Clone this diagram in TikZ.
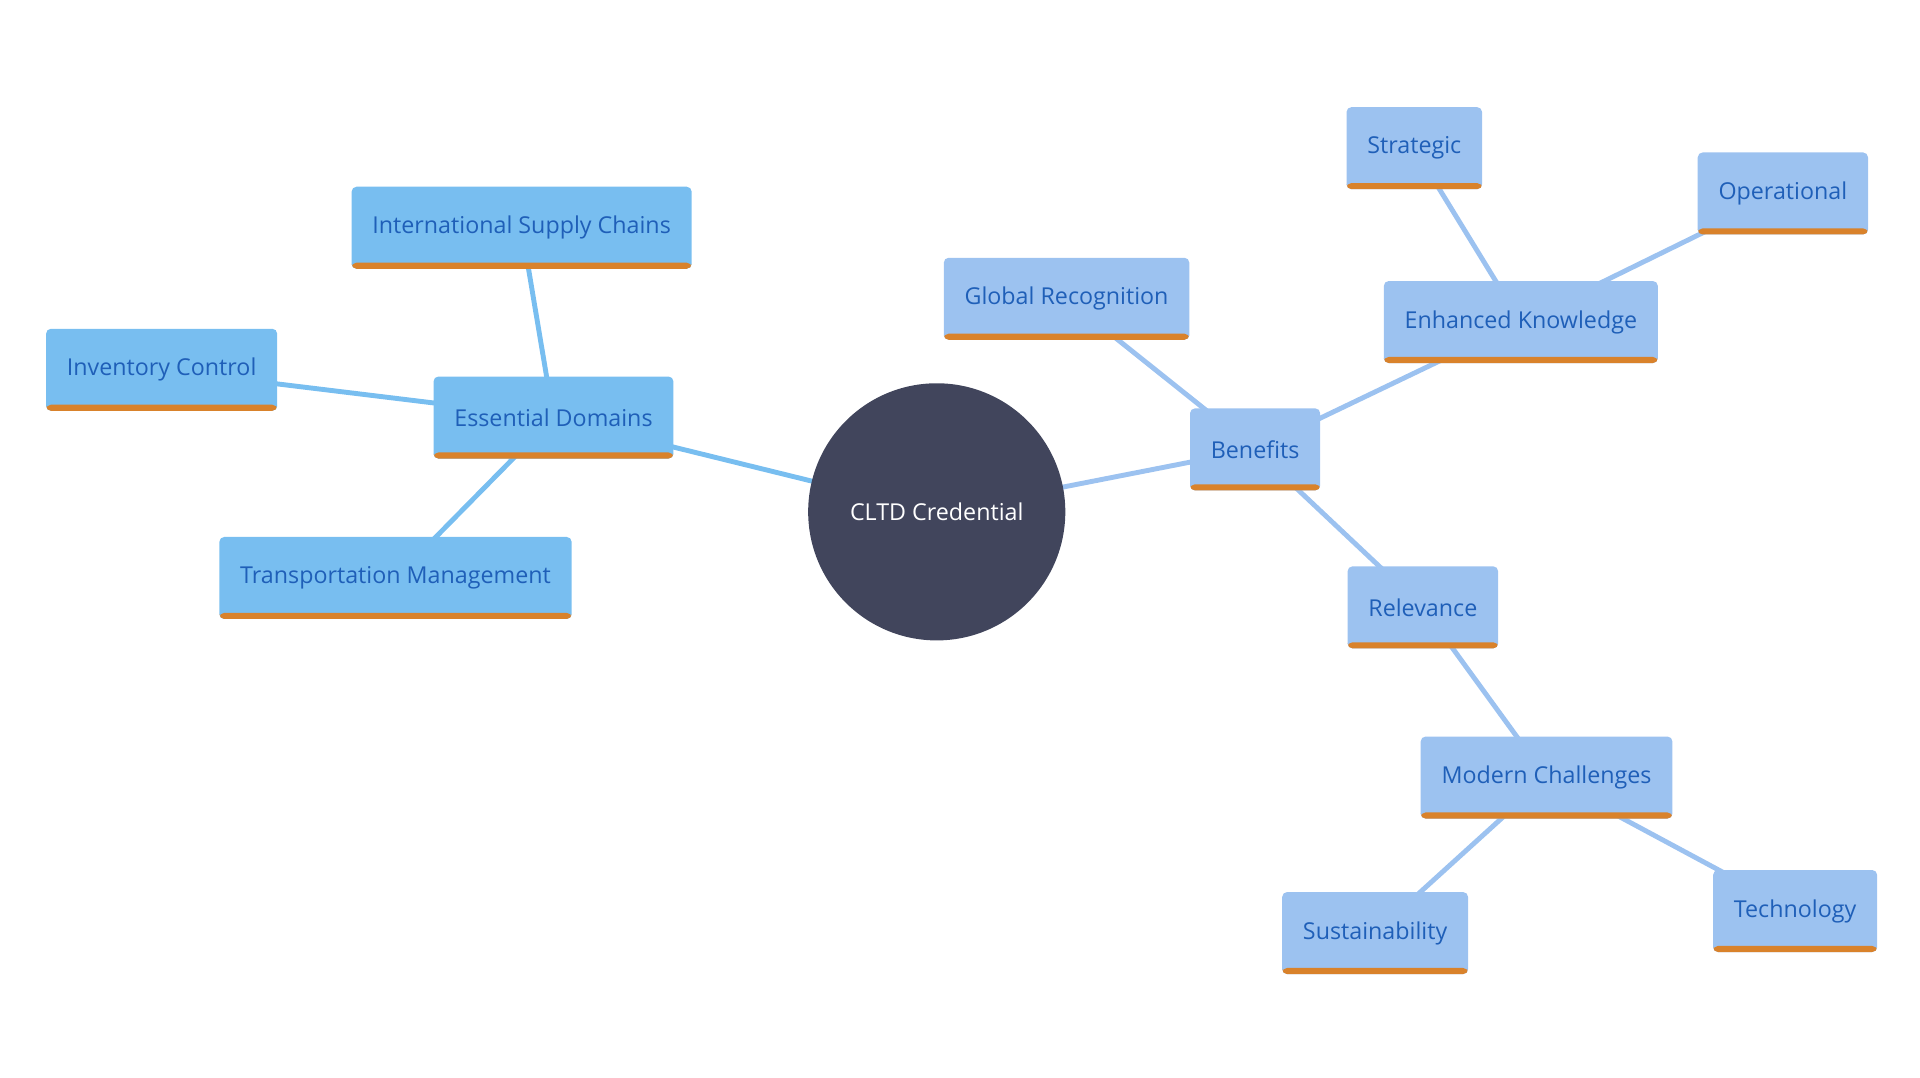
\documentclass[tikz,border=0pt]{standalone}
\usepackage{fontspec}
\setmainfont{Open Sans}
\usetikzlibrary{backgrounds}
\definecolor{leftbox}{HTML}{78BEF0}
\definecolor{rightbox}{HTML}{9CC2F0}
\definecolor{labeltext}{HTML}{1F5FB8}
\definecolor{underline}{HTML}{D9822B}
\definecolor{hubfill}{HTML}{41455C}
\tikzset{
  topic/.style={rectangle, rounded corners=4pt, minimum height=67pt, inner xsep=17pt,
    text=labeltext, font=\fontsize{19}{22}\selectfont,
    path picture={\fill[underline] (path picture bounding box.south west) rectangle ([yshift=5pt]path picture bounding box.south east);}},
  lefttopic/.style={topic, fill=leftbox},
  righttopic/.style={topic, fill=rightbox},
  link/.style={line width=4pt},
}
\begin{document}
\begin{tikzpicture}[x=1pt,y=-1pt]
    \useasboundingbox (0,0) rectangle (1568,880);

    % hub
    \node[circle, fill=hubfill, minimum size=210pt, text=white, font=\fontsize{19}{22}\selectfont] (hub) at (765,418) {CLTD Credential};

    % left branch
    \node[lefttopic] (domains) at (452,341) {Essential Domains};
    \node[lefttopic] (intl) at (426,186) {International Supply Chains};
    \node[lefttopic] (inventory) at (132,302) {Inventory Control};
    \node[lefttopic] (transport) at (323,472) {Transportation Management};

    % right branch
    \node[righttopic] (benefits) at (1025,367) {Benefits};
    \node[righttopic] (global) at (871,244) {Global Recognition};
    \node[righttopic] (knowledge) at (1242,263) {Enhanced Knowledge};
    \node[righttopic] (strategic) at (1155,121) {Strategic};
    \node[righttopic] (operational) at (1456,158) {Operational};
    \node[righttopic] (relevance) at (1162,496) {Relevance};
    \node[righttopic] (challenges) at (1263,635) {Modern Challenges};
    \node[righttopic] (sustain) at (1123,762) {Sustainability};
    \node[righttopic] (tech) at (1466,744) {Technology};

    % connectors
    \begin{scope}[on background layer]
        \draw[link, leftbox] (hub.center) -- (domains.center);
        \draw[link, leftbox] (domains.center) -- (intl.center);
        \draw[link, leftbox] (domains.center) -- (inventory.center);
        \draw[link, leftbox] (domains.center) -- (transport.center);
        \draw[link, rightbox] (hub.center) -- (benefits.center);
        \draw[link, rightbox] (benefits.center) -- (global.center);
        \draw[link, rightbox] (benefits.center) -- (knowledge.center);
        \draw[link, rightbox] (knowledge.center) -- (strategic.center);
        \draw[link, rightbox] (knowledge.center) -- (operational.center);
        \draw[link, rightbox] (benefits.center) -- (relevance.center);
        \draw[link, rightbox] (relevance.center) -- (challenges.center);
        \draw[link, rightbox] (challenges.center) -- (sustain.center);
        \draw[link, rightbox] (challenges.center) -- (tech.center);
    \end{scope}
\end{tikzpicture}
\end{document}
